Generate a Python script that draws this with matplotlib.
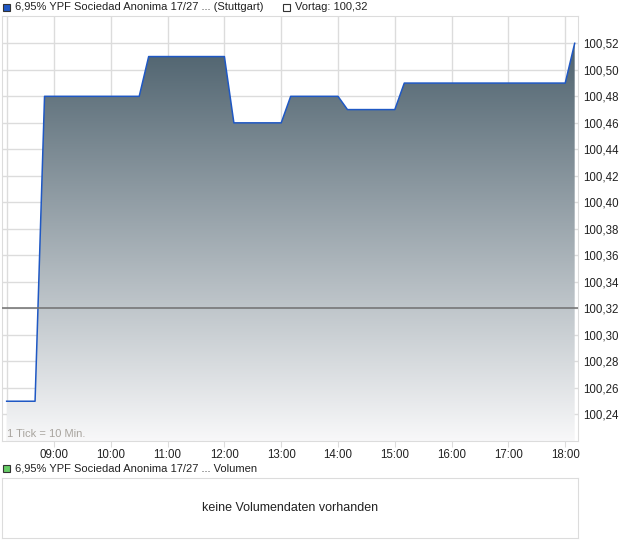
#!/usr/bin/env python

# Imports
import matplotlib
matplotlib.use("Agg")
import matplotlib.pyplot as plt
import matplotlib.patches as mpatches
from matplotlib.colors import LinearSegmentedColormap
import numpy as np

plt.rcParams["font.family"] = ["Liberation Sans", "DejaVu Sans"]

# Data (10 minute ticks, only the change points)
times = ["08:10", "08:40", "08:50", "10:30", "10:40", "12:00", "12:10", "13:00",
         "13:10", "14:00", "14:10", "15:00", "15:10", "18:00", "18:10"]
prices = [100.25, 100.25, 100.48, 100.48, 100.51, 100.51, 100.46, 100.46,
          100.48, 100.48, 100.47, 100.47, 100.49, 100.49, 100.52]
prev_close = 100.32
hour_labels = ["09:00", "10:00", "11:00", "12:00", "13:00",
               "14:00", "15:00", "16:00", "17:00", "18:00"]
y_ticks = [100.24, 100.26, 100.28, 100.30, 100.32, 100.34, 100.36, 100.38,
           100.40, 100.42, 100.44, 100.46, 100.48, 100.50, 100.52]
title = "6,95% YPF Sociedad Anonima 17/27 ... (Stuttgart)"
prev_label = "Vortag: 100,32"
vol_title = "6,95% YPF Sociedad Anonima 17/27 ... Volumen"
vol_text = "keine Volumendaten vorhanden"


def to_hours(s):
    h, m = s.split(":")
    return int(h) + int(m) / 60.0


x = np.array([to_hours(t) for t in times])
y = np.array(prices)
hours = [to_hours(t) for t in hour_labels]

W, H = 620, 546
fig = plt.figure(figsize=(W / 100, H / 100), dpi=100)

# Main price axes (pixel box 2..578 x 16..441)
ax = fig.add_axes([2 / W, 1 - 441 / H, 576 / W, 425 / H])

grid_col = "#dcdcdc"
for h in hours:
    ax.axvline(h, color=grid_col, lw=1, zorder=0)
ax.axvline(x[0], color=grid_col, lw=1, zorder=0)
for v in y_ticks:
    ax.axhline(v, color=grid_col, lw=1, zorder=0)

# Gradient fill under the line
cmap = LinearSegmentedColormap.from_list("g", ["#f8f8f9", "#4e626e"])
grad = np.linspace(0, 1, 256).reshape(-1, 1)
poly = ax.fill_between(x, y, 100.22, color="none", lw=0)
img = ax.imshow(grad, cmap=cmap, aspect="auto", origin="lower",
                extent=[x[0], x[-1], 100.22, y.max()], zorder=1)
path = poly.get_paths()[0]
img.set_clip_path(path, transform=ax.transData)
ax.set_xlim(8.0845, 18.225)
ax.set_ylim(100.22, 100.5406)

ax.plot(x, y, color="#1f58c4", lw=1.1, zorder=3)
ax.axhline(prev_close, color="#707070", lw=1.1, zorder=4)

# Axes styling
for side in ["left", "right", "top", "bottom"]:
    ax.spines[side].set_color(grid_col)
ax.set_xticks(hours)
ax.set_xticklabels(hour_labels)
ax.set_yticks(y_ticks)
ax.set_yticklabels([f"{v:.2f}".replace(".", ",") for v in y_ticks])
ax.yaxis.tick_right()
ax.tick_params(axis="y", length=0, pad=4, labelsize=8.3, colors="#222222")
ax.tick_params(axis="x", length=4, color=grid_col, pad=2, labelsize=8.3,
               labelcolor="#222222")

ax.text(8.18, 100.2215, "1 Tick = 10 Min.", fontsize=8, color="#a8a49e",
        va="bottom", ha="left", zorder=5)

# Legend line on top
fig.patches.append(mpatches.Rectangle((3 / W, 1 - 11 / H), 7 / W, 7 / H,
                   transform=fig.transFigure, facecolor="#1f58c4",
                   edgecolor="#333333", lw=0.8))
fig.text(15 / W, 1 - 7.5 / H, title, fontsize=8, va="center", ha="left",
         color="#222222")
fig.patches.append(mpatches.Rectangle((283 / W, 1 - 11 / H), 7 / W, 7 / H,
                   transform=fig.transFigure, facecolor="white",
                   edgecolor="#333333", lw=0.8))
fig.text(295 / W, 1 - 7.5 / H, prev_label, fontsize=8, va="center",
         ha="left", color="#222222")

# Volume legend and empty box
fig.patches.append(mpatches.Rectangle((3 / W, 1 - 472 / H), 7 / W, 7 / H,
                   transform=fig.transFigure, facecolor="#66cc66",
                   edgecolor="#333333", lw=0.8))
fig.text(15 / W, 1 - 468.5 / H, vol_title, fontsize=8, va="center",
         ha="left", color="#222222")
vax = fig.add_axes([2 / W, 1 - 538 / H, 576 / W, 60 / H])
vax.set_xticks([])
vax.set_yticks([])
for side in ["left", "right", "top", "bottom"]:
    vax.spines[side].set_color(grid_col)
vax.text(0.5, 0.5, vol_text, transform=vax.transAxes, fontsize=9,
         ha="center", va="center", color="#222222")

fig.savefig("out.png", dpi=100)
